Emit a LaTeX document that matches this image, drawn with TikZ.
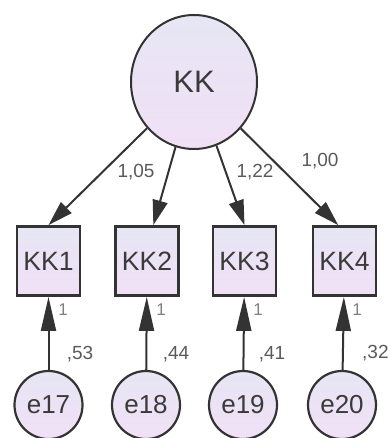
\documentclass[tikz,border=0pt]{standalone}
\usepackage{fontspec}
\setmainfont{Liberation Sans}
\usetikzlibrary{arrows.meta,shapes.geometric}
\definecolor{edgec}{HTML}{333333}
\definecolor{txtc}{HTML}{3A3A3A}
\definecolor{lblc}{HTML}{5A5A5A}
\definecolor{onec}{HTML}{808080}
\definecolor{filltop}{HTML}{E6E6F4}
\definecolor{fillbot}{HTML}{F1E0F6}
\begin{document}
\begin{tikzpicture}[x=1pt,y=-1pt,
  latent/.style={ellipse, draw=edgec, line width=2pt, top color=filltop, bottom color=fillbot,
    minimum width=126pt, minimum height=134pt, inner sep=0pt, text=txtc, font=\fontsize{31}{31}\selectfont},
  obs/.style={rectangle, draw=edgec, line width=2.8pt, top color=filltop, bottom color=fillbot,
    minimum width=63pt, minimum height=69pt, inner sep=0pt, text=txtc, font=\fontsize{26.5}{26.5}\selectfont},
  errc/.style={circle, draw=edgec, line width=2.2pt, top color=filltop, bottom color=fillbot,
    minimum size=68pt, inner sep=0pt, text=txtc, font=\fontsize{26}{26}\selectfont},
  load/.style={draw=edgec, line width=2pt, -{Triangle[length=25pt,width=15pt]}},
  erra/.style={draw=edgec, line width=2pt, -{Triangle[length=34pt,width=15pt]}},
  lbl/.style={text=lblc, inner sep=0pt, font=\fontsize{19}{19}\selectfont},
  one/.style={text=onec, inner sep=0pt, font=\fontsize{17}{17}\selectfont}
]
\useasboundingbox (0,0) rectangle (389,438);
\fill[white] (0,0) rectangle (389,438);
\node[latent] (KK) at (194,82) {KK};
\node[obs] (KK1) at (48.5,261) {KK1};
\node[obs] (KK2) at (147,261) {KK2};
\node[obs] (KK3) at (244.5,261) {KK3};
\node[obs] (KK4) at (344.5,261) {KK4};
\node[errc] (e17) at (48.5,405) {e17};
\node[errc] (e18) at (146,405) {e18};
\node[errc] (e19) at (243,405) {e19};
\node[errc] (e20) at (342,405) {e20};
\draw[load] (KK) -- (KK1.north);
\draw[load] (KK) -- (KK2.80);
\draw[load] (KK) -- (KK3.north);
\draw[load] (KK) -- (KK4.100);
\draw[erra] (e17) -- (KK1);
\draw[erra] (e18) -- (KK2);
\draw[erra] (e19) -- (KK3);
\draw[erra] (e20) -- (KK4);
\node[lbl] (w2) at (136,172) {1,05};
\node[lbl] (w3) at (255,172) {1,22};
\node[lbl] (w4) at (320,161) {1,00};
\node[one] (o1) at (63,310) {1};
\node[one] (o2) at (161,310) {1};
\node[one] (o3) at (258,310) {1};
\node[one] (o4) at (357,310) {1};
\node[lbl] (v1) at (80,354) {,53};
\node[lbl] (v2) at (176,354) {,44};
\node[lbl] (v3) at (272,354) {,41};
\node[lbl, anchor=west] (v4) at (362,353) {,32};
\end{tikzpicture}
\end{document}
